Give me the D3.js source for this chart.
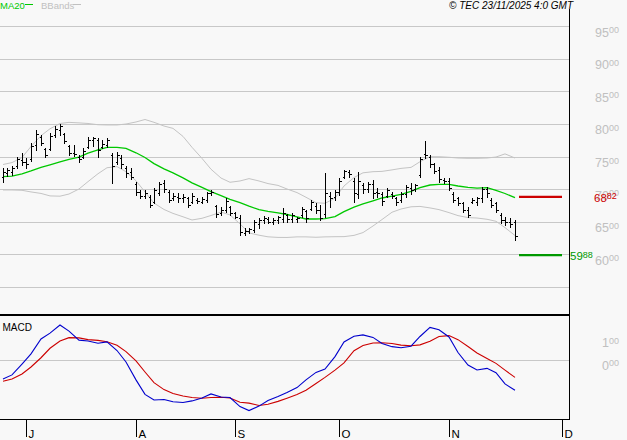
<!DOCTYPE html>
<html><head><meta charset="utf-8">
<script src="https://cdn.jsdelivr.net/npm/d3@7"></script>
<style>
html,body{margin:0;padding:0;background:#f8f8f8;overflow:hidden;}
svg{display:block;}
text{font-family:"Liberation Sans",Arial,sans-serif;}
</style></head><body>
<svg id="chart" width="627" height="440"></svg>
<script>
// ---- data (daily OHLC, index 0 = first bar) ----
const highs=[73.2,73.3,73.5,75.0,75.5,74.8,77.0,79.1,78.3,76.3,
78.6,79.6,80.0,78.6,76.8,76.8,75.2,76.3,78.0,78.0,
77.8,77.5,77.9,75.5,75.7,75.2,73.5,73.2,71.1,69.9,
69.9,69.1,70.1,71.1,71.4,69.9,69.4,69.4,69.3,68.8,
69.4,68.6,68.8,69.6,69.9,67.6,67.3,68.6,67.4,66.5,
66.0,64.0,64.0,65.3,65.5,65.9,65.7,65.5,65.9,67.1,
66.2,66.4,65.7,67.3,66.8,68.3,67.8,67.6,72.4,69.6,
69.9,71.7,73.0,73.0,71.7,72.7,70.9,71.1,71.4,70.1,
69.6,70.2,69.6,68.8,69.6,70.7,70.9,70.8,75.0,77.3,
75.2,74.0,73.4,71.7,71.7,69.5,68.8,68.1,67.3,68.7,
68.8,70.4,70.4,68.6,68.1,66.3,65.8,65.6,65.3];
const lows=[71.1,72.0,72.2,73.2,73.7,73.3,74.3,76.0,76.8,75.0,
76.0,78.0,78.3,77.0,75.2,75.1,74.2,74.7,76.3,76.6,
75.0,76.3,76.5,70.9,73.9,73.2,71.9,71.5,69.1,68.6,
68.6,67.3,67.8,69.1,69.6,68.1,68.3,68.0,68.0,67.3,
67.8,67.8,67.8,68.1,69.1,65.8,66.0,66.5,66.0,65.5,
63.0,63.0,63.2,63.4,64.0,64.8,64.8,64.6,64.8,65.0,
65.0,65.0,65.0,65.8,64.9,66.8,66.3,65.3,65.8,67.3,
68.3,69.1,71.7,71.9,68.1,68.6,69.4,69.6,68.6,68.8,
67.6,68.8,68.6,67.6,68.1,68.8,69.2,69.7,71.9,74.7,
73.4,72.4,71.1,70.9,69.9,68.1,67.6,66.5,65.8,67.8,
67.6,68.1,68.8,67.3,66.5,64.8,64.5,64.2,62.2];
const opens=[71.8,72.5,72.6,73.6,74.5,74.2,74.6,76.8,78.0,76.1,
76.2,78.3,79.0,78.4,76.6,75.6,75.0,74.9,76.5,77.5,
77.6,76.4,76.8,75.2,74.2,74.8,73.3,72.6,70.8,69.6,
69.0,68.8,68.0,69.4,70.9,69.6,68.6,68.8,68.6,68.6,
68.0,68.4,68.0,68.4,69.4,67.4,66.4,66.8,67.2,66.3,
65.6,63.3,63.6,63.8,64.6,65.2,65.4,65.0,65.2,65.4,
66.0,65.4,65.4,66.0,66.6,67.0,67.4,66.8,66.2,69.0,
68.8,69.6,71.9,72.6,71.2,69.2,70.6,70.0,70.8,69.6,
69.3,69.0,69.2,68.6,68.4,69.2,70.2,70.0,72.2,75.4,
75.0,73.8,73.0,71.4,71.2,69.2,68.6,67.8,66.8,68.0,
68.0,68.6,70.0,68.4,67.8,66.0,65.2,65.0,65.0];
const closes=[72.6,72.9,73.2,74.6,74.2,73.8,76.6,78.4,77.0,75.3,
78.2,79.2,79.6,77.3,75.6,75.4,74.6,75.9,77.6,77.8,
76.0,76.9,77.5,73.6,75.3,73.8,72.4,71.8,69.6,68.9,
69.4,67.6,69.8,70.8,70.0,68.4,69.0,68.6,68.8,67.6,
69.0,68.2,68.5,69.4,69.6,66.2,66.8,68.2,66.4,65.8,
63.4,63.6,63.9,65.0,65.2,65.6,65.0,65.2,65.7,66.4,
65.4,66.0,65.6,67.0,65.6,68.0,66.8,65.6,69.4,68.6,
69.6,71.2,72.8,72.3,69.4,71.2,70.0,70.8,69.4,69.4,
68.2,69.8,69.0,68.0,69.2,70.4,69.8,70.6,74.6,75.2,
73.8,72.8,71.6,71.2,70.2,68.4,67.8,66.8,66.0,68.4,
68.6,70.0,69.4,67.6,66.8,65.2,64.9,64.6,62.8];

// indicator lines, read every second bar
const lineStep=2;
const ma20=[71.92,71.99,72.32,72.78,73.34,73.73,74.17,74.56,74.92,75.51,
76.03,76.41,76.41,76.23,75.57,74.85,73.91,73.10,72.50,71.72,
70.97,70.26,69.62,69.01,68.44,67.92,67.38,66.86,66.59,66.36,
66.11,65.73,65.42,65.42,65.48,65.79,66.56,67.25,67.74,68.21,
68.64,68.93,69.18,69.65,70.22,70.63,70.74,70.74,70.48,70.26,
70.16,70.22,69.82,69.33,68.69];
const bbUpper=[73.77,74.07,74.85,76.53,78.19,79.25,80.06,80.23,80.15,80.06,
79.87,79.83,79.83,79.98,80.29,80.67,80.24,79.67,79.31,78.08,
76.41,74.71,73.05,71.70,71.05,71.25,71.61,71.25,70.85,70.57,
70.02,69.47,68.75,67.92,67.83,68.61,70.48,71.78,72.50,72.67,
72.72,72.95,73.18,73.33,74.20,74.97,74.97,74.88,74.77,74.72,
74.72,74.77,74.92,75.40,74.77];
const bbLower=[69.87,69.87,69.82,69.57,69.34,68.96,68.92,69.25,70.02,71.15,
72.36,73.28,73.45,72.67,71.28,69.57,67.86,66.88,66.28,65.76,
65.27,65.53,65.96,66.48,66.05,64.67,63.29,62.94,62.69,62.60,
62.59,62.68,62.68,62.62,62.68,62.71,62.72,62.91,63.34,64.35,
65.34,66.46,66.95,67.29,67.35,67.12,66.86,66.40,65.94,65.64,
65.57,65.38,65.07,64.10,62.89];
const macdLine=[-0.84,-0.66,-0.18,0.27,0.93,1.19,1.55,1.28,0.88,0.84,
0.74,0.80,0.42,-0.09,-0.88,-1.52,-1.77,-1.75,-1.85,-1.88,
-1.81,-1.68,-1.50,-1.64,-1.66,-2.06,-2.24,-2.04,-1.79,-1.62,
-1.44,-1.22,-0.88,-0.55,-0.40,0.15,0.80,1.05,1.11,1.00,
0.73,0.59,0.54,0.61,1.04,1.44,1.34,1.02,0.33,-0.22,
-0.44,-0.37,-0.56,-1.06,-1.34];
const signalLine=[-0.94,-0.84,-0.62,-0.31,0.10,0.52,0.84,0.99,0.98,0.90,
0.87,0.81,0.65,0.37,-0.04,-0.53,-1.00,-1.31,-1.48,-1.59,
-1.66,-1.69,-1.66,-1.65,-1.68,-1.87,-1.91,-2.01,-1.96,-1.83,
-1.69,-1.53,-1.34,-1.04,-0.77,-0.45,-0.13,0.41,0.64,0.75,
0.76,0.73,0.66,0.63,0.67,0.83,1.04,1.08,0.90,0.60,
0.31,0.07,-0.15,-0.45,-0.77];

const monthLabels=["J","A","S","O","N","D"];
const monthStartIndex=[5,28,49,71,94,118];
const priceGrid=[95,90,85,80,75,70,65,60,55];
const priceTicks=[95,90,85,80,75,70,65,60];
const macdTicks=[1,0];
const resistance=68.82, support=59.88;
const titleText="© TEC 23/11/2025 4:0 GMT";

// ---- drawing ----
const svg=d3.select("#chart");
const W=627;
const axisX=569.5;
const x=d3.scaleLinear().domain([0,118]).range([2.7,562.4]).interpolate(d3.interpolateRound);
const y=d3.scaleLinear().domain([55,95]).range([287,26]);
const ym=d3.scaleLinear().domain([0,1]).range([360,337.4]);
const px=v=>Math.round(v)+0.5;

svg.append("rect").attr("width",W).attr("height",440).attr("fill","#f8f8f8");

// price grid
svg.append("g").selectAll("line").data(priceGrid).join("line")
  .attr("x1",0).attr("x2",axisX).attr("y1",d=>px(y(d))).attr("y2",d=>px(y(d)))
  .attr("stroke","#c8c8c8").attr("shape-rendering","crispEdges");

// macd zero line
svg.append("line").attr("x1",0).attr("x2",axisX).attr("y1",px(ym(0))).attr("y2",px(ym(0)))
  .attr("stroke","#c8c8c8").attr("shape-rendering","crispEdges");

// price axis labels (right)
function splitVal(v){const s=Math.abs(v).toFixed(2).split(".");return s;}
const pAxis=svg.append("g").attr("transform",`translate(${axisX},0)`)
  .call(d3.axisRight(y).tickValues(priceTicks).tickSize(0));
pAxis.select(".domain").remove();
pAxis.selectAll(".tick text").each(function(d){
  const t=d3.select(this).text("").attr("x",49.5).attr("dy",null).attr("y",10)
    .attr("text-anchor","end").attr("fill","#c0c0c0").attr("font-family",null);
  const p=splitVal(d);
  t.append("tspan").attr("font-size","12.5px").text(p[0]);
  t.append("tspan").attr("font-size","9px").attr("dy",-3.4).text(p[1]);
});

const mAxis=svg.append("g").attr("transform",`translate(${axisX},0)`)
  .call(d3.axisRight(ym).tickValues(macdTicks).tickSize(0));
mAxis.select(".domain").remove();
mAxis.selectAll(".tick text").each(function(d){
  const t=d3.select(this).text("").attr("x",49.5).attr("dy",null).attr("y",9)
    .attr("text-anchor","end").attr("fill","#c0c0c0").attr("font-family",null);
  const p=splitVal(d);
  t.append("tspan").attr("font-size","12.5px").text(p[0]);
  t.append("tspan").attr("font-size","9px").attr("dy",-3.4).text(p[1]);
});

// bollinger bands
const lineGen=sc=>d3.line().x((d,k)=>x(k*lineStep)).y(d=>sc(d));
svg.append("path").datum(bbUpper).attr("d",lineGen(y)).attr("fill","none").attr("stroke","#c4c4c4").attr("stroke-width",1);
svg.append("path").datum(bbLower).attr("d",lineGen(y)).attr("fill","none").attr("stroke","#c4c4c4").attr("stroke-width",1);
// MA20
svg.append("path").datum(ma20).attr("d",lineGen(y)).attr("fill","none").attr("stroke","#00c800").attr("stroke-width",1.3);

// OHLC bars
const bars=svg.append("g").attr("stroke","#000").attr("shape-rendering","crispEdges");
highs.forEach((h,i)=>{
  const cx=x(i)+0.5;
  bars.append("line").attr("x1",cx).attr("x2",cx).attr("y1",Math.round(y(h))).attr("y2",Math.round(y(lows[i]))+1);
  bars.append("line").attr("x1",cx-2).attr("x2",cx).attr("y1",px(y(opens[i]))).attr("y2",px(y(opens[i])));
  bars.append("line").attr("x1",cx).attr("x2",cx+2.5).attr("y1",px(y(closes[i]))).attr("y2",px(y(closes[i])));
});

// resistance / support
const lvlX1=x(108)+4, lvlX2=x(118);
svg.append("line").attr("x1",lvlX1).attr("x2",lvlX2).attr("y1",y(resistance)).attr("y2",y(resistance))
  .attr("stroke","#cc0000").attr("stroke-width",2.2);
svg.append("line").attr("x1",lvlX1).attr("x2",lvlX2).attr("y1",y(support)).attr("y2",y(support))
  .attr("stroke","#009900").attr("stroke-width",2.2);
function levelLabel(v,xPos,color){
  const p=splitVal(v);
  const t=svg.append("text").attr("x",xPos).attr("y",y(v)+5.2).attr("fill",color);
  t.append("tspan").attr("font-size","11.5px").text(p[0]);
  t.append("tspan").attr("font-size","9px").attr("dy",-2.6).text(p[1]);
}
levelLabel(resistance,594,"#cc0000");
levelLabel(support,axisX+0.5,"#009900");

// MACD lines
svg.append("path").datum(signalLine).attr("d",lineGen(ym)).attr("fill","none").attr("stroke","#cc0000").attr("stroke-width",1.1);
svg.append("path").datum(macdLine).attr("d",lineGen(ym)).attr("fill","none").attr("stroke","#0000cc").attr("stroke-width",1.1);

// frame: vertical axis, panel divider, bottom axis
svg.append("line").attr("x1",axisX).attr("x2",axisX).attr("y1",9).attr("y2",420).attr("stroke","#000");
svg.append("line").attr("x1",0).attr("x2",axisX+0.5).attr("y1",315).attr("y2",315).attr("stroke","#000").attr("stroke-width",2.2);
svg.append("line").attr("x1",0).attr("x2",axisX+0.5).attr("y1",419.5).attr("y2",419.5).attr("stroke","#000");

// month axis
const xAxis=svg.append("g").attr("transform","translate(0,419)")
  .call(d3.axisBottom(x).tickValues(monthStartIndex).tickSize(18).tickSizeOuter(0)
    .tickFormat((d,i)=>monthLabels[i]));
xAxis.select(".domain").remove();
xAxis.selectAll(".tick line").attr("stroke","#000");
xAxis.selectAll(".tick text").attr("x",2).attr("y",18.5).attr("dy",null)
  .attr("text-anchor","start").attr("font-size","11.5px").attr("fill","#000").attr("font-family",null);

// texts
svg.append("text").attr("x",573).attr("y",8.5).attr("text-anchor","end")
  .attr("font-size","10px").attr("font-style","italic").attr("fill","#000").text(titleText);
svg.append("text").attr("x",0).attr("y",8.5).attr("font-size","9.5px").attr("fill","#00c800").text("MA20");
svg.append("line").attr("x1",25).attr("x2",33).attr("y1",4.5).attr("y2",4.5).attr("stroke","#00c800");
svg.append("text").attr("x",41).attr("y",8.5).attr("font-size","9.5px").attr("fill","#c0c0c0").text("BBands");
svg.append("line").attr("x1",73).attr("x2",81).attr("y1",4.5).attr("y2",4.5).attr("stroke","#c0c0c0");
svg.append("text").attr("x",2.5).attr("y",331).attr("font-size","10px").attr("fill","#000").text("MACD");
</script>
</body></html>
